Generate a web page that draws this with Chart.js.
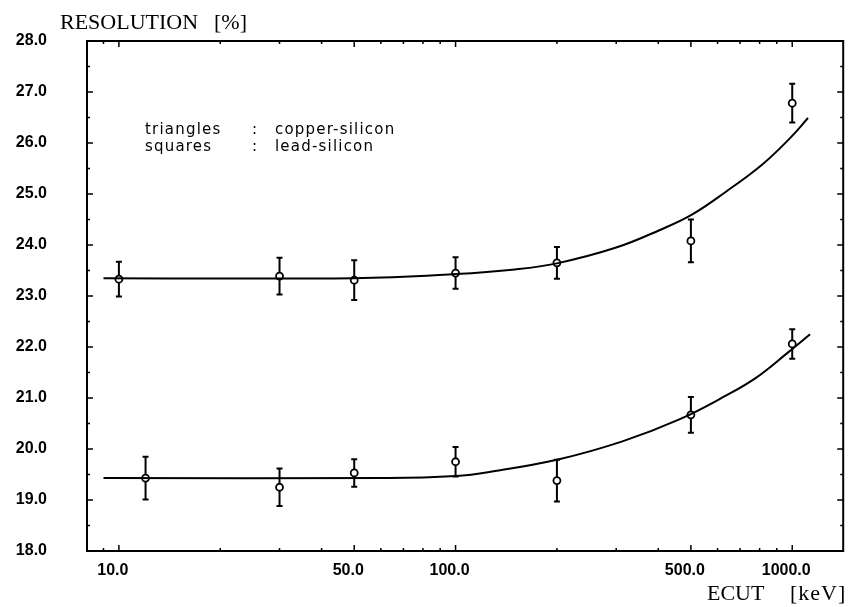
<!DOCTYPE html>
<html>
<head>
<meta charset="utf-8">
<script src="https://cdn.jsdelivr.net/npm/chart.js@4/dist/chart.umd.min.js"></script>
<style>
  html, body { margin: 0; padding: 0; background: #fff; }
  #wrap { width: 849px; height: 607px; }
</style>
</head>
<body>
<div id="wrap"><canvas id="resChart" width="849" height="607"></canvas></div>
<script>
// measured points, copper-silicon
const ecutCu = [10, 30, 50, 100, 200, 500, 1000];
const resCu = [23.33, 23.39, 23.31, 23.45, 23.65, 24.08, 26.78];
const errCu = [0.34, 0.36, 0.39, 0.31, 0.31, 0.42, 0.38];

// measured points, lead-silicon
const ecutPb = [12, 30, 50, 100, 200, 500, 1000];
const resPb = [19.43, 19.25, 19.53, 19.75, 19.38, 20.67, 22.06];
const errPb = [0.42, 0.37, 0.27, 0.29, 0.41, 0.35, 0.29];

// fitted curves
const fitCuE = [9, 50, 100, 150, 200, 300, 403, 505, 637, 815, 980, 1114];
const fitCuR = [23.35, 23.35, 23.43, 23.52, 23.64, 23.95, 24.29, 24.6, 25.05, 25.58, 26.08, 26.49];
const fitPbE = [9, 63, 100, 126, 203, 313, 462, 637, 782, 966, 1130];
const fitPbR = [19.43, 19.43, 19.47, 19.55, 19.80, 20.15, 20.58, 21.05, 21.4, 21.88, 22.25];

const xTicks = [10, 50, 100, 500, 1000];
const xMinor = [9, 20, 30, 40, 60, 70, 80, 90, 200, 300, 400, 600, 700, 800, 900];
const yTicks = [18, 19, 20, 21, 22, 23, 24, 25, 26, 27, 28];

const pts = (xs, ys) => xs.map((x, i) => ({ x: x, y: ys[i] }));

// vertical error bars with small caps
const errorBars = {
  id: 'errorBars',
  afterDatasetsDraw(chart) {
    const { ctx, scales: { x, y } } = chart;
    ctx.save();
    ctx.strokeStyle = '#000';
    ctx.lineWidth = 2;
    chart.data.datasets.forEach(ds => {
      if (!ds.errors) return;
      ds.data.forEach((p, i) => {
        const px = x.getPixelForValue(p.x);
        const top = y.getPixelForValue(p.y + ds.errors[i]);
        const bot = y.getPixelForValue(p.y - ds.errors[i]);
        const c = y.getPixelForValue(p.y);
        ctx.beginPath();
        ctx.moveTo(px, top); ctx.lineTo(px, c - 3.5);
        ctx.moveTo(px, c + 3.5); ctx.lineTo(px, bot);
        ctx.moveTo(px - 3, top); ctx.lineTo(px + 3, top);
        ctx.moveTo(px - 3, bot); ctx.lineTo(px + 3, bot);
        ctx.stroke();
      });
    });
    ctx.restore();
  }
};

// box round the plot, inward ticks, axis titles and the key text
const frame = {
  id: 'frame',
  afterDraw(chart) {
    const { ctx, chartArea: a, scales: { x, y } } = chart;
    ctx.save();
    ctx.strokeStyle = '#000';
    ctx.lineWidth = 2;
    ctx.strokeRect(a.left, a.top, a.right - a.left, a.bottom - a.top);

    ctx.lineWidth = 1.5;
    ctx.beginPath();
    const xt = (v, len) => {
      const px = x.getPixelForValue(v);
      ctx.moveTo(px, a.bottom); ctx.lineTo(px, a.bottom - len);
      ctx.moveTo(px, a.top); ctx.lineTo(px, a.top + len);
    };
    xTicks.forEach(v => xt(v, 6));
    xMinor.forEach(v => xt(v, 3));
    for (let v = 18; v <= 28; v += 0.5) {
      const py = y.getPixelForValue(v);
      const len = Number.isInteger(v) ? 6 : 3;
      ctx.moveTo(a.left, py); ctx.lineTo(a.left + len, py);
      ctx.moveTo(a.right, py); ctx.lineTo(a.right - len, py);
    }
    ctx.stroke();

    ctx.fillStyle = '#000';
    ctx.textBaseline = 'alphabetic';
    ctx.font = '22px "Liberation Serif"';
    ctx.fillText('RESOLUTION', 60, 29);
    ctx.fillText('[%]', 214, 29);
    ctx.fillText('ECUT', 707, 600);
    ctx.letterSpacing = '1px';
    ctx.fillText('[keV]', 790, 600);

    ctx.font = '15px "DejaVu Sans"';
    ctx.letterSpacing = '1.2px';
    ctx.fillText('triangles', 145, 134);
    ctx.fillText(':', 252, 134);
    ctx.fillText('copper-silicon', 275, 134);
    ctx.fillText('squares', 145, 151);
    ctx.fillText(':', 252, 151);
    ctx.fillText('lead-silicon', 275, 151);
    ctx.restore();
  }
};

const curve = (xs, ys) => ({
  data: pts(xs, ys),
  showLine: true,
  borderColor: '#000',
  borderWidth: 2,
  pointRadius: 0,
  tension: 0.4
});

const markers = (xs, ys, errs) => ({
  data: pts(xs, ys),
  errors: errs,
  showLine: false,
  pointStyle: 'circle',
  pointRadius: 3.5,
  pointBackgroundColor: '#fff',
  pointBorderColor: '#000',
  pointBorderWidth: 1.8
});

const tickFont = { family: '"Liberation Sans"', size: 16, weight: 'bold' };

new Chart(document.getElementById('resChart'), {
  type: 'scatter',
  data: {
    datasets: [
      curve(fitCuE, fitCuR),
      curve(fitPbE, fitPbR),
      markers(ecutCu, resCu, errCu),
      markers(ecutPb, resPb, errPb)
    ]
  },
  options: {
    responsive: false,
    animation: false,
    layout: { padding: { top: 41, right: 5, left: 0, bottom: 0 } },
    plugins: { legend: { display: false }, tooltip: { enabled: false } },
    scales: {
      x: {
        type: 'logarithmic',
        min: 8.04,
        max: 1417,
        afterBuildTicks: s => { s.ticks = xTicks.map(v => ({ value: v })); },
        afterFit: s => { s.height = 56; s.paddingLeft = 0; s.paddingRight = 0; },
        grid: { display: false, drawTicks: false },
        border: { display: false },
        ticks: {
          padding: 10,
          color: '#000',
          font: tickFont,
          autoSkip: false,
          maxRotation: 0,
          labelOffset: -6,
          callback: v => Number(v).toFixed(1)
        }
      },
      y: {
        min: 18,
        max: 28,
        afterBuildTicks: s => { s.ticks = yTicks.map(v => ({ value: v })); },
        afterFit: s => { s.width = 87; s.paddingTop = 0; s.paddingBottom = 0; },
        grid: { display: false, drawTicks: false },
        border: { display: false },
        ticks: {
          padding: 40,
          color: '#000',
          font: tickFont,
          callback: v => Number(v).toFixed(1)
        }
      }
    }
  },
  plugins: [errorBars, frame]
});
</script>
</body>
</html>
